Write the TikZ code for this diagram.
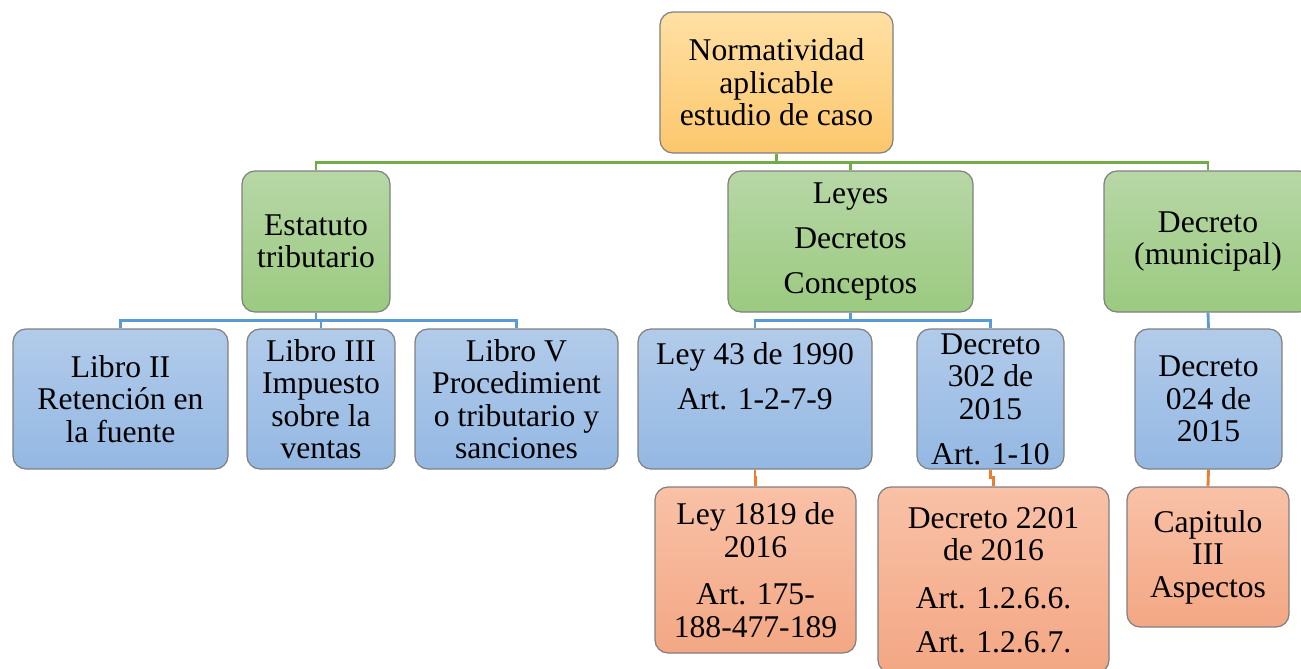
\documentclass[tikz,border=0pt]{standalone}
\usepackage{fontspec}
\setmainfont{Liberation Serif}
\usepackage{xcolor}
\usetikzlibrary{calc}
\definecolor{gline}{HTML}{70AD47}
\definecolor{bline}{HTML}{5B9BD5}
\definecolor{oline}{HTML}{ED7D31}
\tikzset{
  box/.style={draw=black!50, line width=0.7pt, rounded corners=0.26cm, align=center,
    inner sep=2pt, font=\fontsize{18}{18.5}\selectfont},
  rootbox/.style={box, top color={rgb,255:red,255;green,224;blue,164}, bottom color={rgb,255:red,252;green,199;blue,108}},
  greenbox/.style={box, top color={rgb,255:red,183;green,215;blue,166}, bottom color={rgb,255:red,155;green,202;blue,128}},
  bluebox/.style={box, top color={rgb,255:red,178;green,203;blue,234}, bottom color={rgb,255:red,148;green,184;blue,227}},
  salmonbox/.style={box, top color={rgb,255:red,249;green,193;blue,167}, bottom color={rgb,255:red,243;green,167;blue,132}},
  link/.style={line width=1.6pt}
}

\begin{document}
\begin{tikzpicture}
\useasboundingbox (0,0) rectangle (26.02,-13.36);

% first level
\node[rootbox, minimum width=4.66cm, minimum height=2.82cm] (root) at (15.53,-1.65)
  {Normatividad\\aplicable\\estudio de caso};

% second level
\node[greenbox, minimum width=2.96cm, minimum height=2.82cm] (estatuto) at (6.32,-4.83)
  {Estatuto\\tributario};
\node[greenbox, minimum width=4.9cm, minimum height=2.82cm] (leyes) at (17.01,-4.83)
  {Leyes\\[0.25cm]Decretos\\[0.25cm]Conceptos};
\node[greenbox, minimum width=4.16cm, minimum height=2.82cm] (decmun) at (24.16,-4.83)
  {Decreto\\(municipal)};

% third level
\node[bluebox, minimum width=4.3cm, minimum height=2.8cm] (libroII) at (2.41,-7.98)
  {Libro II\\Retención en\\la fuente};
\node[bluebox, minimum width=2.96cm, minimum height=2.8cm] (libroIII) at (6.42,-7.98)
  {Libro III\\Impuesto\\sobre la\\ventas};
\node[bluebox, minimum width=4.06cm, minimum height=2.8cm] (libroV) at (10.33,-7.98)
  {Libro V\\Procedimient\\o tributario y\\sanciones};
\node[bluebox, minimum width=4.68cm, minimum height=2.8cm] (ley43) at (15.1,-7.98)
  {Ley 43 de 1990\\[0.25cm]Art. 1-2-7-9\\[0.25cm]~};
\node[bluebox, minimum width=2.94cm, minimum height=2.8cm] (dec302) at (19.81,-7.98)
  {Decreto\\302 de\\2015\\[0.25cm]Art. 1-10};
\node[bluebox, minimum width=2.94cm, minimum height=2.8cm] (dec024) at (24.17,-7.98)
  {Decreto\\024 de\\2015};

% fourth level
\node[salmonbox, minimum width=4.02cm, minimum height=3.32cm] (ley1819) at (15.11,-11.4)
  {Ley 1819 de\\2016\\[0.3cm]Art. 175-\\188-477-189};
\node[salmonbox, minimum width=4.62cm, minimum height=3.72cm] (dec2201) at (19.87,-11.6)
  {Decreto 2201\\de 2016\\[0.3cm]Art. 1.2.6.6.\\[0.24cm]Art. 1.2.6.7.};
\node[salmonbox, minimum width=3.24cm, minimum height=2.8cm] (capIII) at (24.16,-11.14)
  {Capitulo\\III\\Aspectos};

% connectors
\draw[link, gline] (root.south) -- ++(0,-0.18) -| (estatuto.north);
\draw[link, gline] (root.south) -- ++(0,-0.18) -| (leyes.north);
\draw[link, gline] (root.south) -- ++(0,-0.18) -| (decmun.north);

\draw[link, bline] (estatuto.south) -- ++(0,-0.16) -| (libroII.north);
\draw[link, bline] (estatuto.south) -- ++(0,-0.16) -| (libroIII.north);
\draw[link, bline] (estatuto.south) -- ++(0,-0.16) -| (libroV.north);
\draw[link, bline] (leyes.south) -- ++(0,-0.16) -| (ley43.north);
\draw[link, bline] (leyes.south) -- ++(0,-0.16) -| (dec302.north);
\draw[link, bline] (decmun.south) -- (dec024.north);

\draw[link, oline] (ley43.south) -- ++(0,-0.16) -| (ley1819.north);
\draw[link, oline] (dec302.south) -- ++(0,-0.16) -| (dec2201.north);
\draw[link, oline] (dec024.south) -- (capIII.north);
\end{tikzpicture}
\end{document}
